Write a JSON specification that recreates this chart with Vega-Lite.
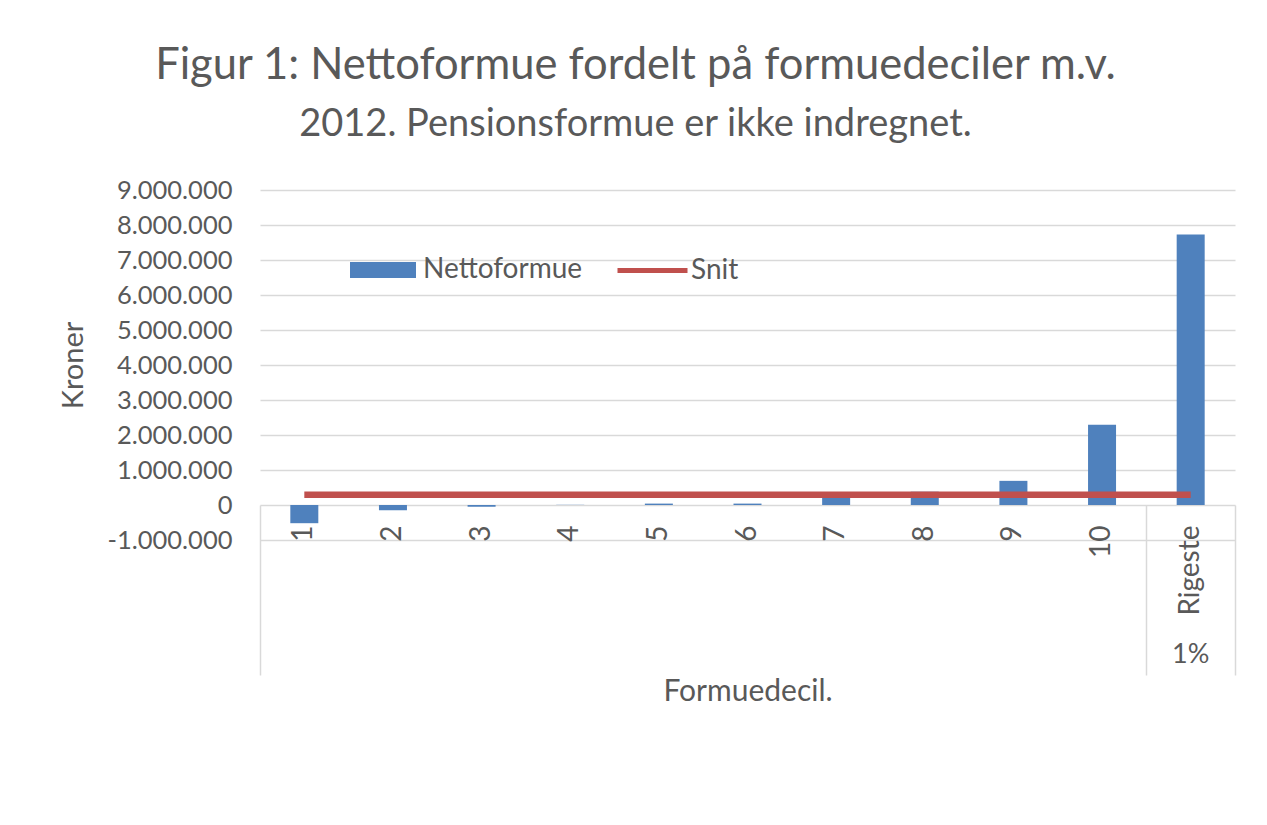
{
  "$schema": "https://vega.github.io/schema/vega-lite/v6.json",
  "width": 975,
  "height": 350,
  "autosize": "none",
  "padding": {"left": 260, "top": 190, "right": 32, "bottom": 285},
  "background": "white",
  "config": {
    "font": "Lato",
    "view": {"stroke": null},
    "axis": {"labelColor": "#595959", "titleColor": "#595959", "titleFontWeight": "normal", "labelFont": "Lato", "titleFont": "Lato"},
    "legend": {"labelFont": "Lato", "labelColor": "#595959"}
  },
  "title": {
    "text": "Figur 1: Nettoformue fordelt på formuedeciler m.v.",
    "subtitle": "2012. Pensionsformue er ikke indregnet.",
    "anchor": "middle",
    "frame": "group",
    "dx": -112,
    "fontSize": 43.5,
    "fontWeight": "normal",
    "color": "#595959",
    "subtitleFontSize": 38,
    "subtitleColor": "#595959",
    "subtitlePadding": 18,
    "offset": 33
  },
  "data": {
    "values": [
      {"decil": "1", "nettoformue": -520000, "snit": 290000},
      {"decil": "2", "nettoformue": -150000, "snit": 290000},
      {"decil": "3", "nettoformue": -50000, "snit": 290000},
      {"decil": "4", "nettoformue": 5000, "snit": 290000},
      {"decil": "5", "nettoformue": 40000, "snit": 290000},
      {"decil": "6", "nettoformue": 40000, "snit": 290000},
      {"decil": "7", "nettoformue": 250000, "snit": 290000},
      {"decil": "8", "nettoformue": 380000, "snit": 290000},
      {"decil": "9", "nettoformue": 690000, "snit": 290000},
      {"decil": "10", "nettoformue": 2290000, "snit": 290000},
      {"decil": "Rigeste", "nettoformue": 7730000, "snit": 290000}
    ]
  },
  "resolve": {"axis": {"x": "independent"}, "scale": {"x": "shared"}},
  "layer": [
    {
      "mark": {"type": "bar", "size": 28},
      "encoding": {
        "x": {
          "field": "decil", "type": "nominal", "sort": null,
          "scale": {"domain": ["1","2","3","4","5","6","7","8","9","10","Rigeste"], "paddingInner": 0, "paddingOuter": 0},
          "axis": {
            "orient": "bottom", "offset": -35, "labelAngle": -90, "labelPadding": 20,
            "labelFontSize": 28, "ticks": false, "domain": false, "grid": false,
            "labelOverlap": false, "labelBound": false,
            "title": "Formuedecil.", "titleFontSize": 30, "titlePadding": 61
          }
        },
        "y": {
          "field": "nettoformue", "type": "quantitative",
          "scale": {"domain": [-1000000, 9000000], "nice": false, "zero": false},
          "axis": {
            "values": [-1000000, 0, 1000000, 2000000, 3000000, 4000000, 5000000, 6000000, 7000000, 8000000, 9000000],
            "tickCount": 20,
            "labelExpr": "replace(replace(format(datum.value, ','), regexp(',', 'g'), '.'), '\u2212', '-')",
            "labelFontSize": 25.5, "labelPadding": 28, "ticks": false, "domain": false,
            "labelOverlap": false, "labelBound": false,
            "grid": true, "gridColor": "#d9d9d9", "gridWidth": 1.5,
            "title": "Kroner", "titleFontSize": 29, "titlePadding": 18
          }
        },
        "fill": {
          "datum": "Nettoformue",
          "scale": {"range": ["#4f81bd"]},
          "legend": {
            "orient": "none", "legendX": 90, "legendY": 47, "title": null,
            "symbolType": "M-1,-0.24H1V0.24H-1Z", "symbolSize": 4356, "symbolStrokeWidth": 0,
            "labelFontSize": 28, "labelOffset": 7, "padding": 0
          }
        }
      }
    },
    {
      "mark": {"type": "line", "strokeWidth": 6.5},
      "encoding": {
        "x": {
          "field": "decil", "type": "nominal", "sort": null,
          "axis": {
            "orient": "bottom", "offset": -35, "bandPosition": 0, "labels": false, "domain": false, "grid": false,
            "ticks": true, "tickSize": 170, "tickWidth": 1.5,
            "tickColor": {"condition": {"test": "datum.value === '1' || datum.value === 'Rigeste'", "value": "#d9d9d9"}, "value": "transparent"},
            "title": null
          }
        },
        "y": {
          "field": "snit", "type": "quantitative",
          "axis": {
            "values": [-1000000, 0, 1000000, 2000000, 3000000, 4000000, 5000000, 6000000, 7000000, 8000000, 9000000],
            "tickCount": 20,
            "labelExpr": "replace(replace(format(datum.value, ','), regexp(',', 'g'), '.'), '\u2212', '-')",
            "labelFontSize": 25.5, "labelPadding": 28, "ticks": false, "domain": false,
            "labelOverlap": false, "labelBound": false,
            "grid": true, "gridColor": "#d9d9d9", "gridWidth": 1.5,
            "title": "Kroner", "titleFontSize": 29, "titlePadding": 18
          }
        },
        "stroke": {
          "datum": "Snit",
          "scale": {"range": ["#c0504d"]},
          "legend": {
            "orient": "none", "legendX": 355, "legendY": 43, "title": null,
            "symbolType": "stroke", "symbolSize": 4900, "symbolStrokeWidth": 5,
            "labelFontSize": 28, "labelOffset": 1, "padding": 0
          }
        }
      }
    },
    {
      "mark": {"type": "rule", "opacity": 0},
      "encoding": {
        "x": {
          "field": "decil", "type": "nominal", "sort": null,
          "axis": {
            "orient": "bottom", "offset": -35, "bandPosition": 1, "domain": false, "grid": false,
            "ticks": true, "tickSize": 170, "tickWidth": 1.5,
            "tickColor": {"condition": {"test": "datum.value === 'Rigeste'", "value": "#d9d9d9"}, "value": "transparent"},
            "labelExpr": "datum.value === 'Rigeste' ? '1%' : ''",
            "labelAngle": 0, "labelFontSize": 27, "labelPadding": -34, "labelOffset": 0,
            "labelOverlap": false, "labelBound": false, "labelFlush": false,
            "title": null
          }
        }
      }
    }
  ]
}
